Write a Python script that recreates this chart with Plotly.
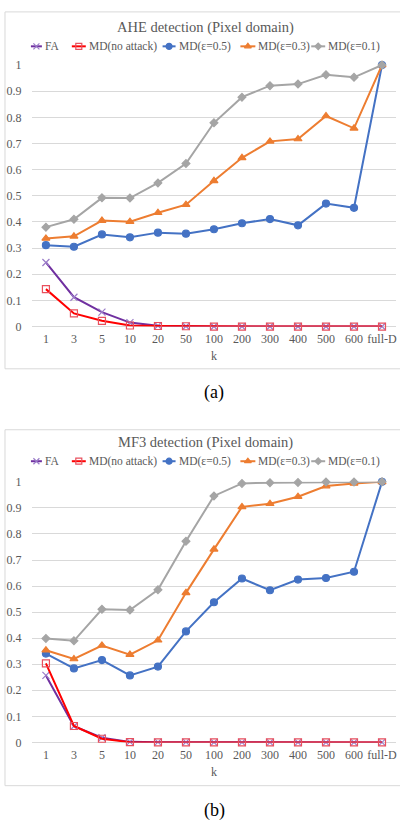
import plotly.graph_objects as go

W, H = 401, 831

k_labels = ["1", "3", "5", "10", "20", "50", "100", "200", "300", "400", "500", "600", "full-D"]
y_ticks = [0, 0.1, 0.2, 0.3, 0.4, 0.5, 0.6, 0.7, 0.8, 0.9, 1]
y_ticktext = ["0", "0.1", "0.2", "0.3", "0.4", "0.5", "0.6", "0.7", "0.8", "0.9", "1"]

series_names = ["FA", "MD(no attack)", "MD(ε=0.5)", "MD(ε=0.3)", "MD(ε=0.1)"]

# (a) AHE detection
fa_a = [0.245, 0.112, 0.055, 0.015, 0.003, 0.001, 0.0, 0.0, 0.0, 0.0, 0.0, 0.0, 0.0]
md_a = [0.143, 0.050, 0.022, 0.004, 0.002, 0.001, 0.0, 0.0, 0.0, 0.0, 0.0, 0.0, 0.0]
e05_a = [0.311, 0.305, 0.352, 0.341, 0.359, 0.355, 0.372, 0.395, 0.411, 0.387, 0.470, 0.454, 1.0]
e03_a = [0.337, 0.345, 0.405, 0.401, 0.435, 0.466, 0.557, 0.645, 0.708, 0.717, 0.805, 0.758, 1.0]
e01_a = [0.380, 0.410, 0.492, 0.491, 0.549, 0.623, 0.779, 0.877, 0.921, 0.927, 0.963, 0.953, 1.0]

# (b) MF3 detection
fa_b = [0.257, 0.062, 0.018, 0.002, 0.001, 0.001, 0.0, 0.0, 0.0, 0.0, 0.0, 0.0, 0.0]
md_b = [0.303, 0.063, 0.014, 0.001, 0.0, 0.0, 0.0, 0.0, 0.0, 0.0, 0.0, 0.0, 0.0]
e05_b = [0.341, 0.284, 0.316, 0.257, 0.291, 0.426, 0.538, 0.629, 0.584, 0.625, 0.631, 0.655, 1.0]
e03_b = [0.354, 0.320, 0.372, 0.337, 0.392, 0.574, 0.741, 0.904, 0.916, 0.943, 0.984, 0.994, 1.0]
e01_b = [0.399, 0.390, 0.511, 0.508, 0.586, 0.772, 0.946, 0.994, 0.997, 0.998, 0.999, 0.999, 1.0]

line_colors = ["#7030A0", "#FF0000", "#4472C4", "#ED7D31", "#A5A5A5"]
marker_colors = ["#9A7CC8", "#E8505E", "#4472C4", "#ED7D31", "#A5A5A5"]
symbols = ["x-thin-open", "square-open", "circle", "triangle-up", "diamond"]
msizes = [7, 7, 7, 7, 6]

FONT = "'Liberation Serif', 'DejaVu Serif', 'Times New Roman', serif"
GREY = "#595959"
GRID = "#D9D9D9"

def py(p):
    return 1 - p / H

def px(p):
    return p / W

fig = go.Figure()

panels = [
    ("x", "y", [fa_a, md_a, e05_a, e03_a, e01_a]),
    ("x2", "y2", [fa_b, md_b, e05_b, e03_b, e01_b]),
]
for xa, ya, data in panels:
    for i, vals in enumerate(data):
        fig.add_trace(go.Scatter(
            x=k_labels, y=vals, xaxis=xa, yaxis=ya, mode="lines+markers",
            name=series_names[i], showlegend=False, cliponaxis=False,
            line=dict(color=line_colors[i], width=2),
            marker=dict(symbol=symbols[i], size=msizes[i], color=marker_colors[i],
                        line=dict(color=marker_colors[i], width=1.2)),
        ))

# custom legends drawn on a pixel overlay axis
leg_text_x = [43, 87, 177, 257, 327]
leg_sym_len = [11, 14, 13, 15, 14]
for leg_y in (40, 462):
    for i in range(5):
        x1 = leg_text_x[i] - 1
        x0 = x1 - leg_sym_len[i]
        fig.add_trace(go.Scatter(
            x=[x0, x1], y=[leg_y, leg_y], xaxis="x3", yaxis="y3", mode="lines",
            showlegend=False, hoverinfo="skip",
            line=dict(color=line_colors[i], width=2)))
        fig.add_trace(go.Scatter(
            x=[(x0 + x1) / 2], y=[leg_y], xaxis="x3", yaxis="y3", mode="markers",
            showlegend=False, hoverinfo="skip",
            marker=dict(symbol=symbols[i], size=msizes[i] - 1, color=marker_colors[i],
                        line=dict(color=marker_colors[i], width=1.2))))

xdom = [px(32), px(397)]
common_x = dict(type="category", range=[-0.5, 12.5], showgrid=False, zeroline=False,
                showline=False, ticks="outside", ticklen=1, tickcolor="rgba(0,0,0,0)",
                tickfont=dict(family=FONT, size=12, color=GREY), fixedrange=True)
common_y = dict(range=[0, 1], tickvals=y_ticks, ticktext=y_ticktext, showgrid=True,
                gridcolor=GRID, gridwidth=1, zeroline=True, zerolinecolor=GRID,
                zerolinewidth=1, showline=False, ticks="outside", ticklen=7,
                tickcolor="rgba(0,0,0,0)",
                tickfont=dict(family=FONT, size=12, color=GREY), fixedrange=True)

fig.update_layout(
    width=W, height=H, margin=dict(l=0, r=0, t=0, b=0),
    paper_bgcolor="white", plot_bgcolor="rgba(0,0,0,0)",
    font=dict(family=FONT),
    xaxis=dict(domain=xdom, anchor="y", **common_x),
    yaxis=dict(domain=[py(325), py(59)], anchor="x", **common_y),
    xaxis2=dict(domain=xdom, anchor="y2", **common_x),
    yaxis2=dict(domain=[py(748), py(483)], anchor="x2", **common_y),
    xaxis3=dict(domain=[0, 1], anchor="y3", range=[0, W], visible=False, fixedrange=True),
    yaxis3=dict(domain=[0, 1], anchor="x3", range=[H, 0], visible=False, fixedrange=True),
)

annotations = []
def ann(text, x, y, size, color=GREY, xanchor="center"):
    annotations.append(dict(text=text, x=px(x), y=py(y), xref="paper", yref="paper",
                            xanchor=xanchor, yanchor="middle", showarrow=False,
                            font=dict(family=FONT, size=size, color=color)))

ann("AHE detection (Pixel domain)", 206, 21, 14.5)
ann("MF3 detection (Pixel domain)", 206, 443, 14.5)
for leg_y in (40, 462):
    for i in range(5):
        ann(series_names[i], leg_text_x[i], leg_y, 11.5, xanchor="left")
ann("k", 214.5, 355, 12)
ann("k", 214.5, 778, 12)
ann("(a)", 215, 392, 18, color="black")
ann("(b)", 215, 817, 18, color="black")
fig.update_layout(annotations=annotations)

shapes = []
for top, bot in ((5, 368), (430, 792)):
    for (x0, y0, x1, y1) in ((5, top, 401, top), (5, bot, 401, bot), (5, top, 5, bot)):
        shapes.append(dict(type="line", xref="paper", yref="paper",
                           x0=px(x0), y0=py(y0), x1=px(x1), y1=py(y1),
                           line=dict(color=GRID, width=1)))
fig.update_layout(shapes=shapes)

fig.write_html("out.html")
